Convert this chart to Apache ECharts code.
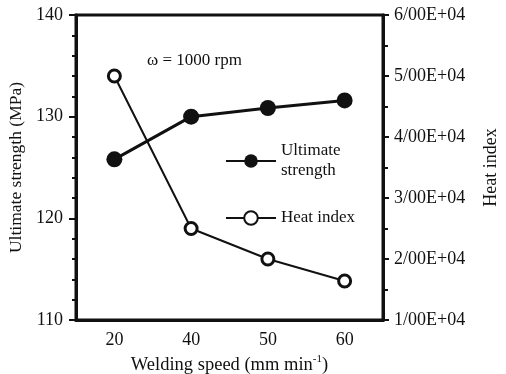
<!DOCTYPE html>
<html>
<head>
    <meta charset="utf-8">
    <title>Ultimate strength and heat index vs welding speed</title>
    <style>
        body { margin: 0; padding: 0; background: #fff; }
        #chart { width: 506px; height: 374px; }
    </style>
</head>
<body>
    <script src="https://cdn.jsdelivr.net/npm/echarts@6/dist/echarts.min.js"></script>
    <div id="chart"></div>
    <script>
        // data
        const speeds = ['20', '40', '50', '60'];
        const strength = [125.8, 130.0, 130.85, 131.6];     // MPa
        const heatIndex = [50000, 25000, 20000, 16400];     // heat index
        const strengthTicks = [110, 120, 130, 140];
        const heatTicks = [10000, 20000, 30000, 40000, 50000, 60000];

        const font = 'Liberation Serif';
        const ink = '#111';
        const fs = 18;
        let chart = echarts.init(document.getElementById('chart'));

        chart.setOption({
            animation: false,
            textStyle: { fontFamily: font, color: ink },
            grid: {
                left: 76, right: 123, top: 15, bottom: 54,
                outerBoundsMode: 'none',
                containLabel: false,
                show: true, borderColor: ink, borderWidth: 3
            },
            graphic: [{
                type: 'text', left: 147, top: 52,
                style: { text: 'ω = 1000 rpm', font: '17px ' + font, fill: ink }
            }],
            legend: {
                orient: 'vertical',
                left: 220, top: 136,
                itemWidth: 50, itemHeight: 17,
                itemGap: 27,
                formatter: name => name === 'Ultimate strength' ? 'Ultimate\nstrength' : name,
                textStyle: { fontFamily: font, fontSize: 17, lineHeight: 20, color: ink }
            },
            xAxis: [{
                type: 'category',
                data: speeds,
                boundaryGap: true,
                name: 'Welding speed (mm min{sup|-1})',
                nameLocation: 'middle',
                nameGap: 29,
                nameTextStyle: {
                    fontFamily: font, fontSize: 18.5, color: ink,
                    rich: { sup: { fontFamily: font, fontSize: 11, verticalAlign: 'top', padding: [0, 0, 11, 0] } }
                },
                axisLine: { lineStyle: { color: ink, width: 3 } },
                axisTick: { length: 5, lineStyle: { width: 2, color: ink } },
                axisLabel: { fontFamily: font, fontSize: fs, color: ink, margin: 11 },
                splitLine: { show: false }
            }, {
                type: 'category',
                data: speeds,
                position: 'bottom',
                boundaryGap: true,
                axisLine: { show: false },
                axisTick: { alignWithLabel: true, length: 5, lineStyle: { width: 2, color: ink } },
                axisLabel: { show: false },
                splitLine: { show: false }
            }],
            yAxis: [{
                type: 'value',
                min: strengthTicks[0], max: strengthTicks[strengthTicks.length - 1], interval: 10,
                name: 'Ultimate strength (MPa)',
                nameLocation: 'middle',
                nameGap: 45,
                nameRotate: 90,
                nameTextStyle: { fontFamily: font, fontSize: 17.5, color: ink },
                axisLine: { show: true, lineStyle: { color: ink, width: 3 } },
                axisTick: { show: true, length: 7, lineStyle: { width: 2, color: ink } },
                minorTick: { show: true, splitNumber: 5, length: 4, lineStyle: { width: 2, color: ink } },
                axisLabel: { fontFamily: font, fontSize: fs, color: ink, margin: 13 },
                splitLine: { show: false }
            }, {
                type: 'value',
                position: 'right',
                min: heatTicks[0], max: heatTicks[heatTicks.length - 1], interval: 10000,
                name: 'Heat index',
                nameLocation: 'middle',
                nameGap: 99,
                nameRotate: 90,
                nameTextStyle: { fontFamily: font, fontSize: 18, color: ink },
                axisLine: { show: true, lineStyle: { color: ink, width: 3 } },
                axisTick: { show: true, length: 6, lineStyle: { width: 2, color: ink } },
                minorTick: { show: true, splitNumber: 2, length: 5, lineStyle: { width: 2, color: ink } },
                axisLabel: {
                    fontFamily: font, fontSize: fs, color: ink, margin: 11,
                    formatter: v => (v / 10000) + '/00E+04'
                },
                splitLine: { show: false }
            }],
            series: [{
                name: 'Ultimate strength',
                type: 'line',
                yAxisIndex: 0,
                data: strength,
                symbol: 'circle',
                symbolSize: 16,
                itemStyle: { color: ink },
                lineStyle: { color: ink, width: 3 }
            }, {
                name: 'Heat index',
                type: 'line',
                yAxisIndex: 1,
                data: heatIndex,
                symbol: 'circle',
                symbolSize: 12,
                itemStyle: { color: '#fff', borderColor: ink, borderWidth: 3 },
                lineStyle: { color: ink, width: 2 }
            }]
        });
    </script>
</body>
</html>
